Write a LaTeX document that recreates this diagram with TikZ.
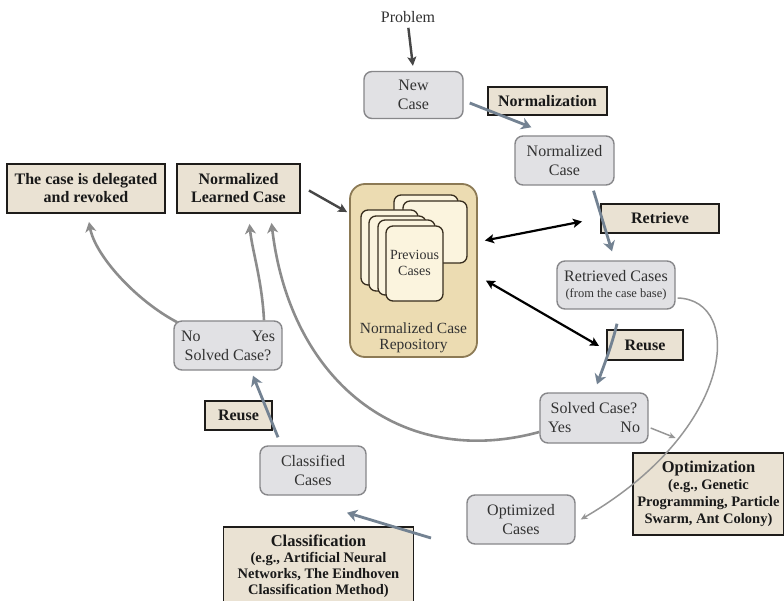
\documentclass[tikz,border=0pt]{standalone}
\usepackage{fontspec}
\setmainfont{Liberation Serif}
\usetikzlibrary{arrows.meta}
\definecolor{tanfill}{RGB}{234,226,211}
\definecolor{tanline}{RGB}{30,28,26}
\definecolor{grayfill}{RGB}{225,225,228}
\definecolor{grayline}{RGB}{135,135,138}
\definecolor{repofill}{RGB}{236,220,178}
\definecolor{repoline}{RGB}{140,122,85}
\definecolor{cardfill}{RGB}{251,244,222}
\definecolor{cardline}{RGB}{55,45,30}
\definecolor{bluegray}{RGB}{115,130,146}
\definecolor{curvegray}{RGB}{140,140,140}
\definecolor{thingray}{RGB}{150,150,150}
\definecolor{darkgray}{RGB}{70,70,70}
\definecolor{textgray}{RGB}{50,50,50}
\definecolor{tantext}{RGB}{25,25,25}
\begin{document}
\begin{tikzpicture}[x=1pt,y=-1pt,
  graybox/.style={draw=grayline, fill=grayfill, line width=1.4pt, rounded corners=8pt,
    inner sep=0pt, align=center, text=textgray, font=\fontsize{16}{19}\selectfont},
  tanbox/.style={draw=tanline, fill=tanfill, line width=1.9pt, inner sep=0pt, text=tantext,
    align=center, font=\bfseries\fontsize{16}{18}\selectfont},
  card/.style={draw=cardline, fill=cardfill, line width=1.3pt, rounded corners=7pt},
  bluearrow/.style={draw=bluegray, line width=2.8pt, -{Stealth[length=10pt,width=12pt,inset=3pt]}},
  curvearrow/.style={draw=curvegray, line width=2.6pt, -{Stealth[length=10pt,width=11pt,inset=3pt]}},
  thinarrow/.style={draw=thingray, line width=1.5pt, -{Stealth[length=7pt,width=6pt,inset=2pt]}},
  darkarrow/.style={draw=darkgray, line width=2.4pt, -{Stealth[length=9pt,width=9pt,inset=2pt]}},
  dblarrow/.style={draw=black, line width=2.2pt, {Stealth[length=9pt,width=9pt,inset=2pt]}-{Stealth[length=9pt,width=9pt,inset=2pt]}}
]
\useasboundingbox[fill=white] (0,0) rectangle (784,601);

% repository
\node[draw=repoline, fill=repofill, line width=1.8pt, rounded corners=15pt,
  minimum width=127pt, minimum height=173pt, inner sep=0pt] (repo) at (413.5,270.5) {};
\draw[card] (394,195) rectangle (458,257);
\draw[card] (403,201) rectangle (467,263);
\draw[card] (361,210) rectangle (418,285);
\draw[card] (369,216) rectangle (426,291);
\draw[card] (378,220) rectangle (435,295);
\draw[card] (386,226) rectangle (443,301);
\node[align=center, inner sep=0pt, text=textgray, font=\fontsize{14}{16}\selectfont] (prev) at (414.5,263) {Previous\\Cases};
\node[align=center, inner sep=0pt, text=textgray, font=\fontsize{15.5}{16.5}\selectfont] (repolabel) at (413.5,338) {Normalized Case\\Repository};

% nodes
\node[inner sep=2pt, text=textgray, font=\fontsize{16}{19}\selectfont] (problem) at (408,17) {Problem};
\node[graybox, minimum width=99pt, minimum height=47pt] (newcase) at (413.5,95) {New\\Case};
\node[tanbox, minimum width=119pt, minimum height=28pt] (normbox) at (547.5,101) {Normalization};
\node[graybox, minimum width=99pt, minimum height=49pt] (normcase) at (564.5,160.5) {Normalized\\Case};
\node[tanbox, minimum width=118pt, minimum height=29pt] (retrieve) at (660,218.5) {Retrieve};
\node[graybox, minimum width=118pt, minimum height=48pt] (retrieved) at (616,285)
  {Retrieved Cases\\[-3pt]{\fontsize{12.5}{14}\selectfont (from the case base)}};
\node[tanbox, minimum width=76pt, minimum height=30pt] (reuseR) at (645,345) {Reuse};
\node[graybox, minimum width=108pt, minimum height=50pt] (solvedR) at (594,418)
  {Solved Case?\\\makebox[92pt]{Yes\hfill No}};
\node[tanbox, minimum width=151pt, minimum height=82pt, font=\bfseries\fontsize{14.5}{17}\selectfont] (optim) at (708.5,494)
  {{\fontsize{16.5}{19}\selectfont Optimization}\\(e.g., Genetic\\Programming, Particle\\Swarm, Ant Colony)};
\node[graybox, minimum width=108pt, minimum height=49pt] (optcases) at (521,519.5) {Optimized\\Cases};
\node[tanbox, minimum width=190pt, minimum height=78pt, font=\bfseries\fontsize{14.5}{16}\selectfont] (classif) at (318.5,566)
  {{\fontsize{16.5}{18}\selectfont Classification}\\(e.g., Artificial Neural\\Networks, The Eindhoven\\Classification Method)};
\node[graybox, minimum width=106pt, minimum height=49pt] (classcases) at (313,470.5) {Classified\\Cases};
\node[tanbox, minimum width=67pt, minimum height=29pt] (reuseL) at (238.5,415.5) {Reuse};
\node[graybox, minimum width=108pt, minimum height=49pt] (solvedL) at (228,345.5)
  {\makebox[94pt]{No\hfill Yes}\\Solved Case?};
\node[tanbox, minimum width=158pt, minimum height=49pt] (delegated) at (86,188.5) {The case is delegated\\and revoked};
\node[tanbox, minimum width=123pt, minimum height=49pt] (learned) at (238.5,188.5) {Normalized\\Learned Case};

\coordinate (cstart) at (431,538);

% connectors
\draw[darkarrow, shorten <=3pt, shorten >=5pt] (problem.south) -- (newcase.north);
\draw[bluearrow] ([shift={(6,8)}]newcase.east) -- ([shift={(17,-8)}]normcase.north west);
\draw[bluearrow] ([shift={(29,5)}]normcase.south) -- ([shift={(-4,-9)}]retrieved.north);
\draw[bluearrow] ([shift={(1,14)}]retrieved.south) .. controls (612,345) and (603,368) .. ([shift={(3,-8)}]solvedR.north);
\draw[thinarrow] ([shift={(2,10)}]solvedR.east) -- ([shift={(27,20)}]solvedR.east);
\draw[thinarrow] ([shift={(2,13)}]retrieved.east) .. controls (745,300) and (735,430) .. ([shift={(5,0)}]optcases.east);
\draw[curvearrow] ([shift={(0,14)}]solvedR.west) .. controls (400,470) and (290,380) .. ([shift={(33,9)}]learned.south);
\draw[curvearrow] ([shift={(36,0)}]solvedL.north) .. controls (262,280) and (252,250) .. ([shift={(11,10)}]learned.south);
\draw[curvearrow] ([shift={(4,2)}]solvedL.north west) .. controls (135,300) and (95,255) .. ([shift={(3,8)}]delegated.south);
\draw[bluearrow] ([shift={(-35,-8)}]classcases.north) -- ([shift={(25,5)}]solvedL.south);
\draw[bluearrow] (cstart) -- ([shift={(34,17)}]classcases.south);
\draw[darkarrow] ([shift={(8,2)}]learned.east) -- ([shift={(-2,29)}]repo.north west);
\draw[dblarrow] ([shift={(7,-30)}]repo.east) -- ([shift={(-18,3)}]retrieve.west);
\draw[dblarrow] ([shift={(8,10)}]repo.east) -- ([shift={(-7,1)}]reuseR.west);
\end{tikzpicture}
\end{document}
